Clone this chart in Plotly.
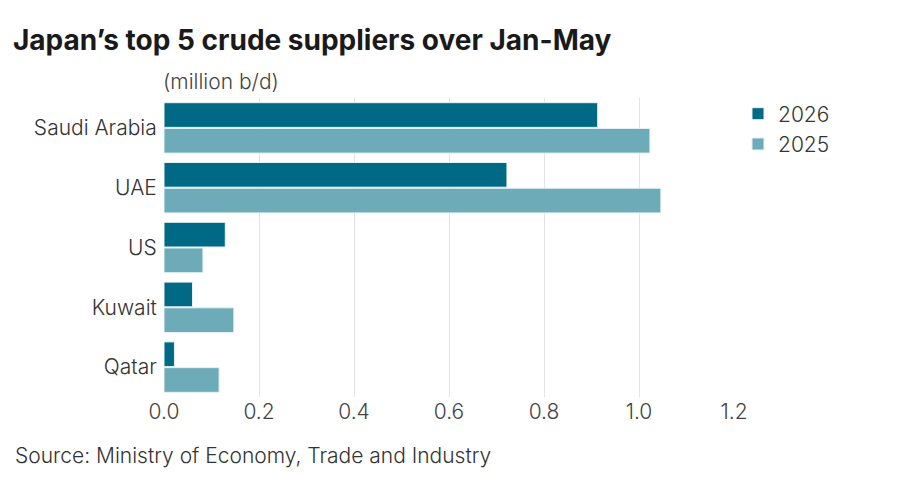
import plotly.graph_objects as go

# Данные (million b/d)
countries = ['Saudi Arabia', 'UAE', 'US', 'Kuwait', 'Qatar']
y2026 = [0.913, 0.722, 0.129, 0.060, 0.022]
y2025 = [1.023, 1.046, 0.082, 0.147, 0.116]
xticks = [0.0, 0.2, 0.4, 0.6, 0.8, 1.0, 1.2]

dark = '#006985'
light = '#6eabb9'
font = 'Inter, Roboto, sans-serif'

# страница добавляет отступ 8px, поэтому фигура чуть меньше окна
W, H = 892, 469

fig = go.Figure()
fig.add_trace(go.Bar(
    y=countries, x=y2026, name='2026', orientation='h',
    marker=dict(color=dark, line=dict(color='#e6f2f5', width=1))))
fig.add_trace(go.Bar(
    y=countries, x=y2025, name='2025', orientation='h',
    marker=dict(color=light, line=dict(color='#e6f2f5', width=1))))

fig.update_layout(
    width=W, height=H,
    paper_bgcolor='white', plot_bgcolor='white',
    barmode='group', bargap=0.14, bargroupgap=0.04,
    margin=dict(l=156, r=166, t=90, b=80),
    font=dict(family=font, size=21, color='#333333', weight=300),
    title=dict(text="<b>Japan’s top 5 crude suppliers over Jan-May</b>",
               x=5/W, xanchor='left', y=1 - 32/H, yanchor='middle',
               font=dict(family=font, size=28, color='#1a1a1a')),
    legend=dict(x=1.007, xanchor='left', y=1.015, yanchor='top',
                font=dict(size=21, color='#333333', weight=300),
                itemwidth=30, tracegroupgap=0, bgcolor='rgba(0,0,0,0)'),
    xaxis=dict(range=[0, 1.2], tickvals=xticks, tickformat='.1f',
               showgrid=True, gridcolor='#e3e3e3', gridwidth=1,
               zeroline=False, showline=False, ticks='',
               tickfont=dict(size=21, color='#444444', weight=300),
               automargin=False),
    yaxis=dict(autorange='reversed', showgrid=False, showline=False,
               ticks='outside', ticklen=2, tickcolor='rgba(0,0,0,0)',
               tickfont=dict(size=21, color='#333333', weight=300),
               automargin=False),
    annotations=[
        dict(text='(million b/d)', xref='paper', yref='paper', x=0, y=1.0,
             xanchor='left', yanchor='bottom', yshift=2, xshift=-3,
             showarrow=False,
             font=dict(size=21, color='#444444', weight=300)),
        dict(text='Source: Ministry of Economy, Trade and Industry',
             xref='paper', yref='paper', x=-151/570, y=-58/299,
             xanchor='left', yanchor='middle', showarrow=False,
             font=dict(size=21, color='#333333', weight=300)),
    ],
)

fig.write_html("out.html")
